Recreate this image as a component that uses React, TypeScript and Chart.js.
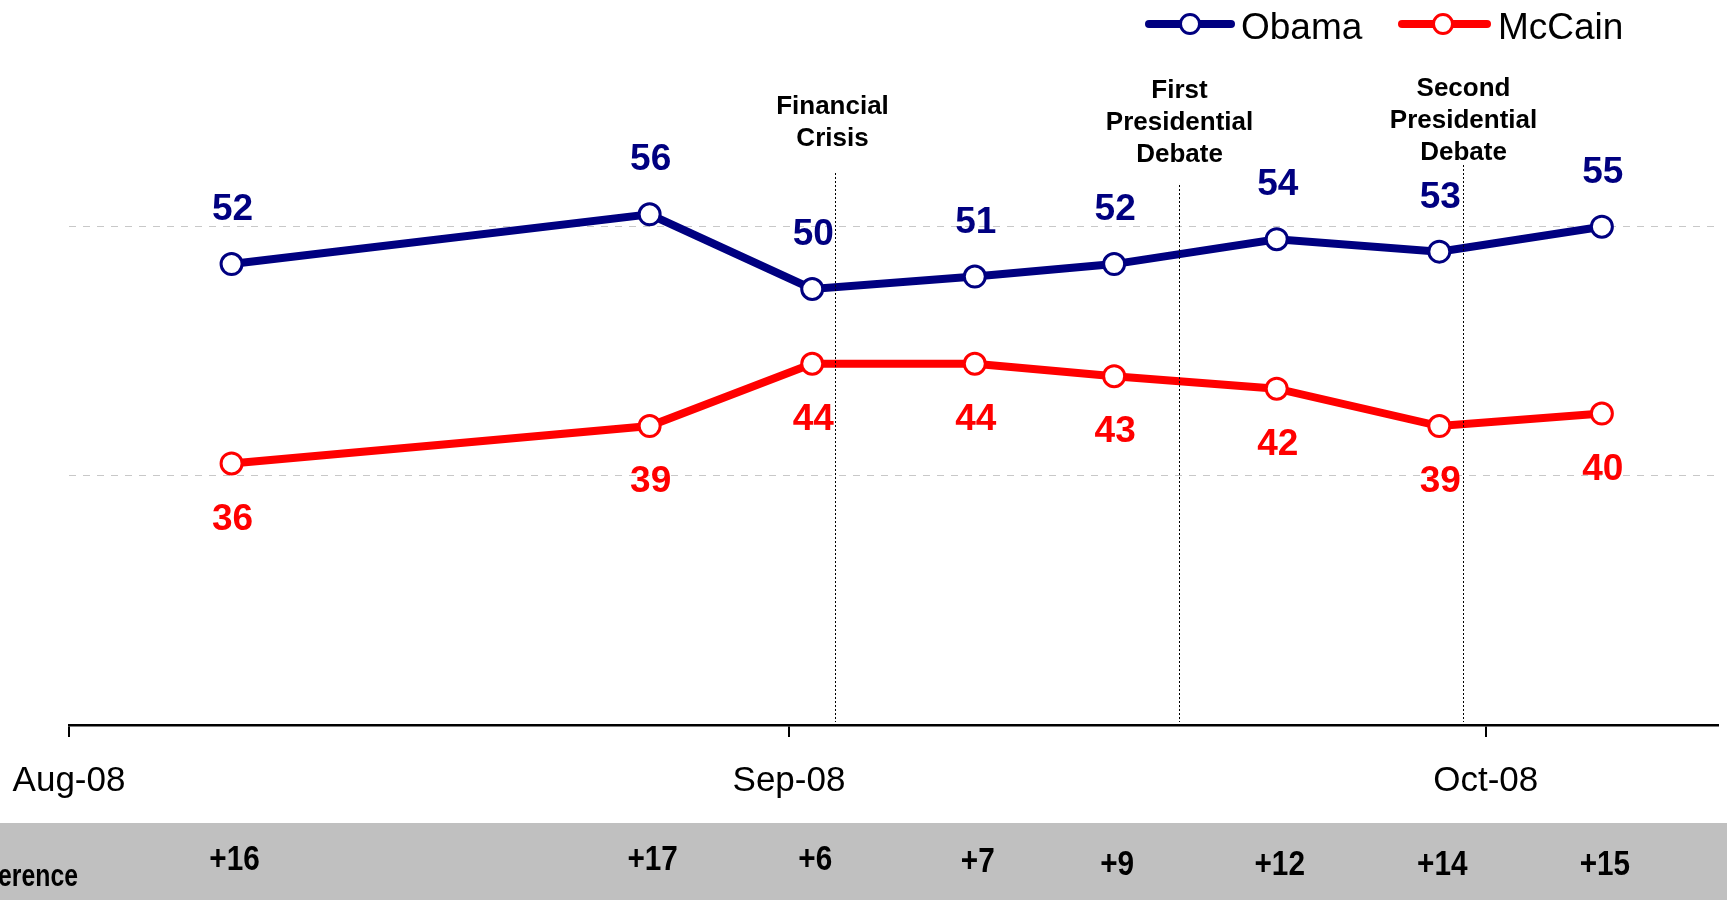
import React, { useEffect, useRef } from "react";
import { Chart, registerables } from "chart.js";
Chart.register(...registerables);

// Days counted from Aug 1, 2008
const pollDays = [7, 25, 32, 39, 45, 52, 59, 66];
const obamaValues = [52, 56, 50, 51, 52, 54, 53, 55];
const mccainValues = [36, 39, 44, 44, 43, 42, 39, 40];
const seriesNames = ["Obama", "McCain"];
const monthTickDays = [0, 31, 61];
const monthTickLabels = ["Aug-08", "Sep-08", "Oct-08"];
const gridValues = [15, 35, 55];
const eventDays = [33, 47.8, 60];
const eventLabels = [
  ["Financial", "Crisis"],
  ["First", "Presidential", "Debate"],
  ["Second", "Presidential", "Debate"],
];
const differenceTitle = "Difference";

const NAVY = "#000080";
const RED = "#FF0000";
const FONT = "'Liberation Sans', Arial, sans-serif";
// styling for event annotations: [last text line centre y, dotted line top y]
const eventStyle = [
  [139, 173],
  [155, 185],
  [153, 165],
];
// small vertical offsets of the difference labels (styling)
const diffYOffsets = [0, 0, 0, 2, 5, 5, 5, 5];

const overlayPlugin = {
  id: "overlay",
  beforeDraw(chart: any) {
    const { ctx, width } = chart;
    ctx.save();
    ctx.fillStyle = "#C0C0C0";
    ctx.fillRect(0, 823, width, 900 - 823);
    ctx.restore();
  },
  afterDatasetsDraw(chart: any) {
    const { ctx, scales, chartArea } = chart;
    const xs = scales.x;
    ctx.save();
    // event lines + labels
    eventDays.forEach((d, i) => {
      const x = Math.round(xs.getPixelForValue(d)) + 0.5;
      const [lastY, topY] = eventStyle[i];
      ctx.strokeStyle = "#000";
      ctx.lineWidth = 1;
      ctx.setLineDash([2, 2]);
      ctx.beginPath();
      ctx.moveTo(x, topY);
      ctx.lineTo(x, chartArea.bottom - 3);
      ctx.stroke();
      ctx.setLineDash([]);
      ctx.fillStyle = "#000";
      ctx.font = `bold 26px ${FONT}`;
      ctx.textAlign = "center";
      ctx.textBaseline = "middle";
      const lines = eventLabels[i];
      lines.forEach((t, k) => {
        ctx.fillText(t, x - (i === 0 ? 3 : 0), lastY - (lines.length - 1 - k) * 32);
      });
    });
    // data labels
    ctx.font = `bold 37px ${FONT}`;
    ctx.textAlign = "center";
    ctx.textBaseline = "middle";
    const m0 = chart.getDatasetMeta(0).data;
    const m1 = chart.getDatasetMeta(1).data;
    m0.forEach((p: any, j: number) => {
      ctx.fillStyle = NAVY;
      ctx.fillText(String(obamaValues[j]), p.x + 1, p.y - 54);
    });
    m1.forEach((p: any, j: number) => {
      ctx.fillStyle = RED;
      ctx.fillText(String(mccainValues[j]), p.x + 1, p.y + 56);
    });
    // differences
    ctx.fillStyle = "#000";
    m0.forEach((p: any, j: number) => {
      const t = "+" + (obamaValues[j] - mccainValues[j]);
      ctx.font = `bold 35px ${FONT}`;
      const w = ctx.measureText(t).width;
      ctx.fillText(t, p.x + 3, 860 + diffYOffsets[j], w * 0.85);
    });
    ctx.font = `bold 31px ${FONT}`;
    ctx.textAlign = "right";
    const wt = ctx.measureText(differenceTitle).width;
    ctx.fillText(differenceTitle, 78, 877, wt * 0.8);

    // legend
    const legend = [
      { name: seriesNames[0], color: NAVY, x0: 1149, x1: 1231, mx: 1190, tx: 1241 },
      { name: seriesNames[1], color: RED, x0: 1402, x1: 1487, mx: 1443, tx: 1498 },
    ];
    legend.forEach((l) => {
      ctx.strokeStyle = l.color;
      ctx.lineWidth = 8;
      ctx.lineCap = "round";
      ctx.beginPath();
      ctx.moveTo(l.x0, 24);
      ctx.lineTo(l.x1, 24);
      ctx.stroke();
      ctx.beginPath();
      ctx.arc(l.mx, 24, 9.5, 0, Math.PI * 2);
      ctx.fillStyle = "#fff";
      ctx.fill();
      ctx.lineWidth = 3;
      ctx.stroke();
      ctx.fillStyle = "#000";
      ctx.font = `37px ${FONT}`;
      ctx.textAlign = "left";
      ctx.textBaseline = "middle";
      ctx.fillText(l.name, l.tx, 29);
    });
    ctx.restore();
  },
};

export default function App() {
  const ref = useRef<HTMLCanvasElement>(null);
  useEffect(() => {
    if (!ref.current) return;
    const mk = (vals: number[]) => pollDays.map((d, i) => ({ x: d, y: vals[i] }));
    const chart = new Chart(ref.current, {
      type: "line",
      data: {
        datasets: [
          {
            label: seriesNames[0],
            data: mk(obamaValues),
            borderColor: NAVY,
            backgroundColor: NAVY,
            borderWidth: 8,
            pointRadius: 10.5,
            pointBorderWidth: 3,
            pointBackgroundColor: "#fff",
            pointBorderColor: NAVY,
            tension: 0,
            clip: false as any,
          },
          {
            label: seriesNames[1],
            data: mk(mccainValues),
            borderColor: RED,
            backgroundColor: RED,
            borderWidth: 8,
            pointRadius: 10.5,
            pointBorderWidth: 3,
            pointBackgroundColor: "#fff",
            pointBorderColor: RED,
            tension: 0,
            clip: false as any,
          },
        ],
      },
      options: {
        responsive: false,
        animation: false,
        devicePixelRatio: 1,
        layout: { autoPadding: false, padding: { left: 0, right: 9, top: 0, bottom: 0 } },
        plugins: { legend: { display: false }, tooltip: { enabled: false } },
        scales: {
          x: {
            type: "linear",
            min: 0,
            max: 71,
            afterBuildTicks: (s: any) => {
              s.ticks = monthTickDays.map((v) => ({ value: v }));
            },
            afterFit: (s: any) => {
              s.height = 175;
              s.paddingLeft = 0;
              s.paddingRight = 0;
            },
            ticks: {
              autoSkip: false,
              maxRotation: 0,
              padding: 23,
              color: "#000",
              font: { family: FONT, size: 35 },
              callback: (v: any) => {
                const i = monthTickDays.indexOf(Number(v));
                return i >= 0 ? monthTickLabels[i] : "";
              },
            },
            grid: {
              drawOnChartArea: false,
              drawTicks: true,
              tickLength: 12,
              color: "#000",
              lineWidth: 2,
            },
            border: { display: true, color: "#000", width: 2.5 },
          },
          y: {
            min: 15,
            max: 73.2,
            afterBuildTicks: (s: any) => {
              s.ticks = gridValues.map((v) => ({ value: v }));
            },
            afterFit: (s: any) => {
              s.width = 69;
            },
            ticks: { display: false },
            grid: {
              drawTicks: false,
              lineWidth: 1,
              color: (c: any) => (c.tick && c.tick.value === 15 ? "rgba(0,0,0,0)" : "#C8C8C8"),
            },
            border: { display: false, dash: [7, 7] },
          },
        },
      },
      plugins: [overlayPlugin],
    });
    return () => chart.destroy();
  }, []);
  return (
    <div style={{ position: "fixed", left: 0, top: 0, width: 1727, height: 900, background: "#fff" }}>
      <canvas ref={ref} width={1727} height={900} style={{ display: "block" }} />
    </div>
  );
}
